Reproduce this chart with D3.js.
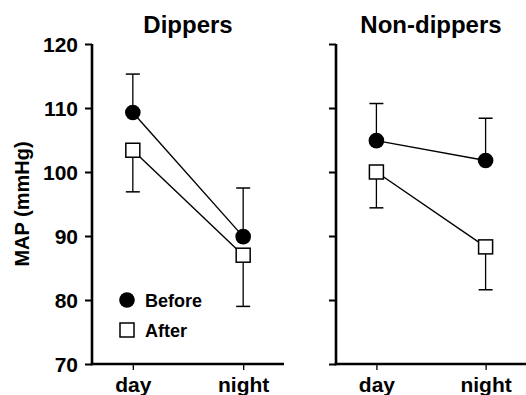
<!DOCTYPE html>
<html>
<head>
<meta charset="utf-8">
<script src="https://cdn.jsdelivr.net/npm/d3@7"></script>
<style>
  body { margin: 0; background: #fff; }
  text { font-family: "Liberation Sans", Arial, Helvetica, sans-serif; font-weight: bold; fill: #000; }
</style>
</head>
<body>
<script>
(function() {

	var width = 526,
		height = 395;

	// data
	var times = ["day", "night"];
	var panels = ["Dippers", "Non-dippers"];
	var yTicks = [70, 80, 90, 100, 110, 120];

	var dippersBefore = [109.3, 89.9],
		dippersBeforeErr = [6.0, 7.6],
		dippersAfter = [103.4, 87.0],
		dippersAfterErr = [6.5, 8.0];

	var nonBefore = [104.9, 101.8],
		nonBeforeErr = [5.8, 6.6],
		nonAfter = [100.0, 88.3],
		nonAfterErr = [5.6, 6.7];

	var legendLabels = ["Before", "After"];

	var axisWidth = 2.6,
		markerR = 7.8,
		squareSize = 14;

	var svg = d3.select("body").append("svg")
		.attr("width", width)
		.attr("height", height);

	var y = d3.scaleLinear().domain([70, 120]).range([364, 44]);

	var xRanges = [[92, 284], [336, 526]];

	var series = [
		{ before: dippersBefore, beforeErr: dippersBeforeErr, after: dippersAfter, afterErr: dippersAfterErr },
		{ before: nonBefore, beforeErr: nonBeforeErr, after: nonAfter, afterErr: nonAfterErr }
	];

	panels.forEach(function(title, p) {
		var x = d3.scalePoint().domain(times).range(xRanges[p]).padding(0.37);
		var g = svg.append("g");
		var s = series[p];

		// y axis
		var yAxis = d3.axisLeft(y).tickValues(yTicks).tickSize(7).tickPadding(7)
			.tickFormat(p == 0 ? d3.format("d") : "");
		var ya = g.append("g")
			.attr("transform", "translate(" + xRanges[p][0] + ",0)")
			.call(yAxis);
		ya.select(".domain").remove();
		ya.append("line")
			.attr("x1", 0).attr("x2", 0)
			.attr("y1", y(120)).attr("y2", y(70) + axisWidth / 2)
			.attr("stroke", "#000").attr("stroke-width", axisWidth);
		ya.selectAll(".tick line").attr("stroke-width", 2);
		ya.selectAll(".tick text").style("font-size", "21px").attr("dy", "0.36em");

		// x axis
		var xAxis = d3.axisBottom(x).tickSize(6).tickPadding(9);
		var xa = g.append("g")
			.attr("transform", "translate(0," + y(70) + ")")
			.call(xAxis);
		xa.select(".domain").remove();
		xa.append("line")
			.attr("x1", xRanges[p][0] - axisWidth / 2).attr("x2", xRanges[p][1])
			.attr("y1", 0).attr("y2", 0)
			.attr("stroke", "#000").attr("stroke-width", axisWidth);
		xa.selectAll(".tick line").attr("stroke-width", 1.3);
		xa.selectAll(".tick text").style("font-size", "21px").attr("dy", "0.64em");

		// title
		g.append("text")
			.attr("x", (x("day") + x("night")) / 2)
			.attr("y", 33)
			.attr("text-anchor", "middle")
			.style("font-size", "24px")
			.text(title);

		// error bars: before goes up, after goes down
		function errBars(vals, errs, dir) {
			g.selectAll(null).data(vals).enter().append("line")
				.attr("x1", function(d, i) { return x(times[i]); })
				.attr("x2", function(d, i) { return x(times[i]); })
				.attr("y1", function(d) { return y(d); })
				.attr("y2", function(d, i) { return y(d + dir * errs[i]); })
				.attr("stroke", "#000").attr("stroke-width", 1.3);
			g.selectAll(null).data(vals).enter().append("line")
				.attr("x1", function(d, i) { return x(times[i]) - 7; })
				.attr("x2", function(d, i) { return x(times[i]) + 7; })
				.attr("y1", function(d, i) { return y(d + dir * errs[i]); })
				.attr("y2", function(d, i) { return y(d + dir * errs[i]); })
				.attr("stroke", "#000").attr("stroke-width", 1.5);
		}
		errBars(s.before, s.beforeErr, 1);
		errBars(s.after, s.afterErr, -1);

		var line = d3.line()
			.x(function(d, i) { return x(times[i]); })
			.y(function(d) { return y(d); });

		g.append("path").datum(s.after).attr("d", line)
			.attr("fill", "none").attr("stroke", "#000").attr("stroke-width", 1.4);
		g.append("path").datum(s.before).attr("d", line)
			.attr("fill", "none").attr("stroke", "#000").attr("stroke-width", 1.4);

		g.selectAll(null).data(s.after).enter().append("rect")
			.attr("x", function(d, i) { return x(times[i]) - squareSize / 2; })
			.attr("y", function(d) { return y(d) - squareSize / 2; })
			.attr("width", squareSize).attr("height", squareSize)
			.attr("fill", "#fff").attr("stroke", "#000").attr("stroke-width", 1.5);

		g.selectAll(null).data(s.before).enter().append("circle")
			.attr("cx", function(d, i) { return x(times[i]); })
			.attr("cy", function(d) { return y(d); })
			.attr("r", markerR)
			.attr("fill", "#000");
	});

	// y label
	svg.append("text")
		.attr("transform", "translate(29," + 204 + ") rotate(-90)")
		.attr("text-anchor", "middle")
		.style("font-size", "20px")
		.text("MAP (mmHg)");

	// legend
	var legend = svg.append("g").attr("transform", "translate(127,300)");
	legend.append("circle").attr("cx", 0).attr("cy", 0).attr("r", markerR).attr("fill", "#000");
	legend.append("rect")
		.attr("x", -squareSize / 2).attr("y", 30 - squareSize / 2)
		.attr("width", squareSize).attr("height", squareSize)
		.attr("fill", "#fff").attr("stroke", "#000").attr("stroke-width", 1.5);
	legend.selectAll(".lab").data(legendLabels).enter().append("text")
		.attr("class", "lab")
		.attr("x", 18)
		.attr("y", function(d, i) { return i * 30 + 7; })
		.style("font-size", "18px")
		.text(function(d) { return d; });

})();
</script>
</body>
</html>
